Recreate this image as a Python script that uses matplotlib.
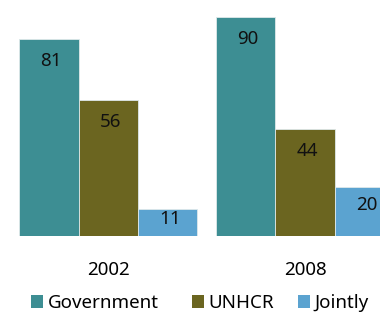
import numpy as np
import matplotlib
matplotlib.use("Agg")
import matplotlib.pyplot as plt
from matplotlib.patches import Patch

# chart data
years = ["2002", "2008"]
series = ["Government", "UNHCR", "Jointly"]
government = [81, 90]
unhcr = [56, 44]
jointly = [11, 20]

colors = ["#3d8e93", "#6b6520", "#5ba3d0"]

plt.rcParams['font.family'] = ['Noto Sans', 'DejaVu Sans']
fs = 13.5

fig = plt.figure(figsize=(3.8, 3.12), dpi=100)
ax = fig.add_axes([0, 76 / 312, 1, 236 / 312])

x = np.arange(len(years))
w = 0.302
for i, (vals, col) in enumerate(zip([government, unhcr, jointly], colors)):
    pos = x + (i - 1) * w
    ax.bar(pos, vals, width=w, color=col, edgecolor="#dfe9ea", linewidth=0.6)
    for px, v in zip(pos, vals):
        # label sits just inside the top of the bar
        off = min(9.0, 0.37 * v)
        ax.text(px + 0.01, v - off, str(v), ha="center", va="center",
                fontsize=fs, color="#111111")

ax.set_xlim(-0.55, 1.38)
ax.set_ylim(0, 97.1)
ax.set_xticks(x)
ax.set_xticklabels(years, fontsize=fs)
ax.tick_params(axis="x", length=0, pad=18)
ax.set_yticks([])
for s in ax.spines.values():
    s.set_visible(False)

# legend entries placed one by one (uneven gaps, as in the original)
leg_x = [31, 192, 298]
for c, s, lx in zip(colors, series, leg_x):
    h = Patch(facecolor=c, edgecolor="none", label=s)
    fig.legend(handles=[h], loc="center left", bbox_to_anchor=(lx / 380, 9 / 312),
               frameon=False, fontsize=fs, handlelength=0.65, handleheight=0.65,
               handletextpad=0.25, borderpad=0, borderaxespad=0)

fig.savefig("out.png", dpi=100)
